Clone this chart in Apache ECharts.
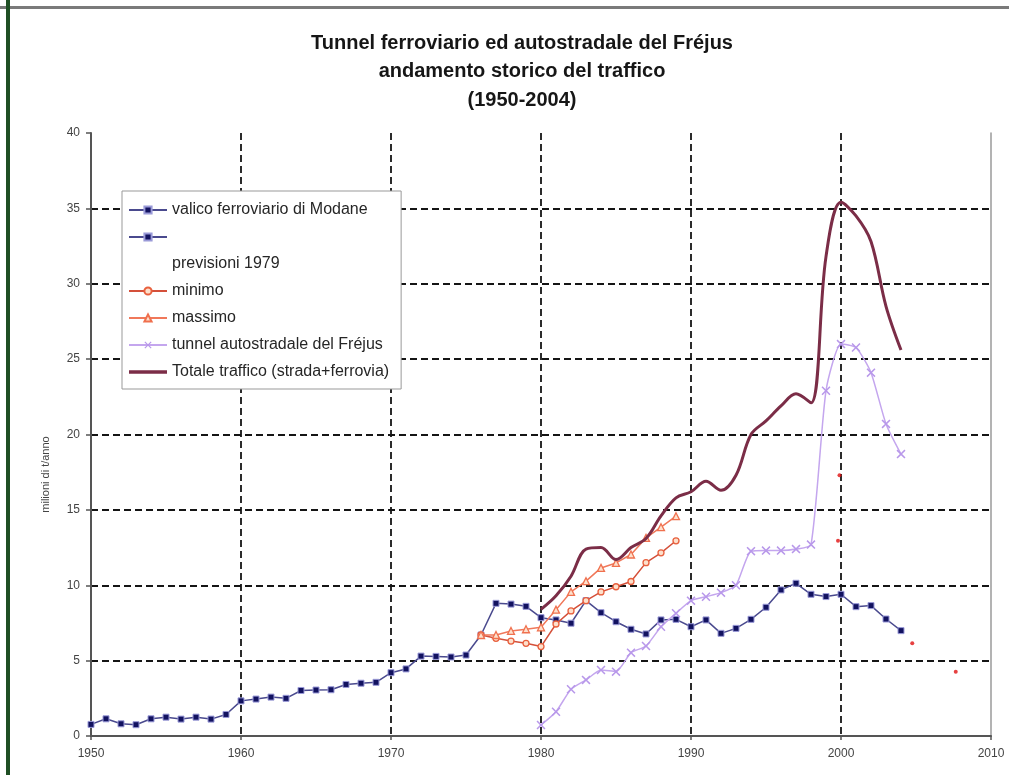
<!DOCTYPE html>
<html><head><meta charset="utf-8">
<script src="https://cdn.jsdelivr.net/npm/echarts@6/dist/echarts.min.js"></script>
<style>html,body{margin:0;padding:0;background:#fff}#c{width:1009px;height:775px}</style>
</head><body><div id="c"></div>
<script>
// ---- data ----
const modaneYears = [1950,1951,1952,1953,1954,1955,1956,1957,1958,1959,1960,1961,1962,1963,1964,1965,1966,1967,1968,1969,1970,1971,1972,1973,1974,1975,1976,1977,1978,1979,1980,1981,1982,1983,1984,1985,1986,1987,1988,1989,1990,1991,1992,1993,1994,1995,1996,1997,1998,1999,2000,2001,2002,2003,2004];
const modaneValues = [0.77,1.14,0.81,0.75,1.14,1.25,1.12,1.25,1.12,1.43,2.33,2.45,2.58,2.5,3.02,3.05,3.07,3.42,3.5,3.56,4.2,4.45,5.3,5.28,5.24,5.37,6.7,8.8,8.75,8.6,7.85,7.7,7.48,8.98,8.18,7.58,7.08,6.77,7.7,7.74,7.25,7.7,6.81,7.14,7.74,8.54,9.69,10.13,9.4,9.25,9.4,8.58,8.65,7.76,6.99];

const forecastYears = [1976,1977,1978,1979,1980,1981,1982,1983,1984,1985,1986,1987,1988,1989];
const minimoValues  = [6.7,6.48,6.3,6.15,5.93,7.43,8.3,8.98,9.56,9.9,10.25,11.5,12.15,12.95];
const massimoValues = [6.7,6.7,6.97,7.08,7.21,8.38,9.56,10.27,11.15,11.48,12.04,13.14,13.85,14.58];

const frejusYears = [1980,1981,1982,1983,1984,1985,1986,1987,1988,1989,1990,1991,1992,1993,1994,1995,1996,1997,1998,1999,2000,2001,2002,2003,2004];
const frejusValues = [0.73,1.61,3.1,3.72,4.38,4.27,5.53,5.97,7.25,8.14,8.98,9.24,9.51,10.0,12.26,12.3,12.3,12.4,12.7,22.9,26.0,25.77,24.1,20.7,18.7];
const totaleValues = [8.4,9.3,10.6,12.4,12.5,11.7,12.5,13.1,14.6,15.8,16.2,16.9,16.3,17.3,20.0,20.9,21.9,22.7,22.1,31.8,35.4,34.5,32.8,28.5,25.6];

const redDotYears  = [1999.9,1999.8,2004.75,2007.65];
const redDotValues = [17.3,12.96,6.15,4.27];

const xTicks = {min:1950, max:2010, step:10};
const yTicks = {min:0, max:40, step:5};

const names = {
  modane: 'valico ferroviario di Modane',
  blank: ' ',
  prev: 'previsioni 1979',
  minimo: 'minimo',
  massimo: 'massimo',
  frejus: 'tunnel autostradale del Fréjus',
  totale: 'Totale traffico (strada+ferrovia)'
};

const zip = (xs, ys) => xs.map((x, i) => [x, ys[i]]);
const FONT = "'Liberation Sans', Arial, sans-serif";
const crossPath = 'path://M0,1.2L1.2,0L5,3.8L8.8,0L10,1.2L6.2,5L10,8.8L8.8,10L5,6.2L1.2,10L0,8.8L3.8,5Z';

const gridDash = {show:true, showMinLine:false, showMaxLine:false, lineStyle:{color:'#151515', width:1.8, type:[7,4]}};

const modaneStyle = {
  type:'line', symbol:'rect', symbolSize:6,
  lineStyle:{color:'#4a4a8e', width:1.5},
  itemStyle:{color:'#121260', borderColor:'#9a9ad8', borderWidth:1}
};

const option = {
  animation:false,
  backgroundColor:'#fff',
  title:{
    text:'Tunnel ferroviario ed autostradale del Fréjus\nandamento storico del traffico\n(1950-2004)',
    left:522, top:29, padding:0, textAlign:'center',
    textStyle:{fontFamily:FONT, fontSize:20, fontWeight:'bold', color:'#161616', lineHeight:28.5}
  },
  legend:{
    orient:'vertical', left:122, top:191,
    padding:[10,12,8,6], itemGap:9, itemWidth:38, itemHeight:9,
    backgroundColor:'#fff', borderColor:'#999', borderWidth:1,
    selectedMode:false,
    textStyle:{fontFamily:FONT, fontSize:16, color:'#262626', lineHeight:18},
    data:[names.modane, names.blank, {name:names.prev, icon:'none'}, names.minimo, names.massimo, names.frejus,
      {name:names.totale, icon:'path://M0,0H40V3.6H0Z'}]
  },
  grid:{left:91, right:18, top:133, bottom:39, containLabel:false},
  xAxis:{
    type:'value', min:xTicks.min, max:xTicks.max, interval:xTicks.step,
    axisLine:{show:true, lineStyle:{color:'#555', width:2}},
    axisTick:{show:true, length:4, lineStyle:{color:'#555', width:1.5}},
    axisLabel:{fontFamily:FONT, fontSize:12, color:'#444', margin:12, formatter:v => String(v)},
    splitLine:gridDash
  },
  yAxis:[{
    type:'value', min:yTicks.min, max:yTicks.max, interval:yTicks.step,
    name:'milioni di t/anno', nameLocation:'middle', nameGap:40,
    nameTextStyle:{fontFamily:FONT, fontSize:11, color:'#444', padding:[0,80,0,0]},
    axisLine:{show:true, lineStyle:{color:'#555', width:2}},
    axisTick:{show:true, length:5, lineStyle:{color:'#555', width:1.5}},
    axisLabel:{fontFamily:FONT, fontSize:12, color:'#444', margin:11},
    splitLine:gridDash
  },{
    type:'value', min:yTicks.min, max:yTicks.max, interval:yTicks.step, position:'right',
    axisLine:{show:true, lineStyle:{color:'#9a9a9a', width:1.5}},
    axisTick:{show:false}, axisLabel:{show:false}, splitLine:{show:false}
  }],
  graphic:[
    {type:'rect', shape:{x:0, y:6, width:1009, height:3}, style:{fill:'#7a7a7a'}, silent:true},
    {type:'rect', shape:{x:6, y:0, width:4, height:775}, style:{fill:'#1f4f24'}, silent:true}
  ],
  series:[
    Object.assign({name:names.modane, data:zip(modaneYears, modaneValues), z:3}, modaneStyle),
    Object.assign({name:names.blank, data:[]}, modaneStyle),
    {name:names.prev, type:'line', data:[], symbol:'none', lineStyle:{opacity:0}},
    {name:names.minimo, type:'line', data:zip(forecastYears, minimoValues), symbol:'circle', symbolSize:6,
      lineStyle:{color:'#d4503a', width:1.5}, itemStyle:{color:'#fde0cc', borderColor:'#e8603e', borderWidth:1.3}, z:4},
    {name:names.massimo, type:'line', data:zip(forecastYears, massimoValues), symbol:'triangle', symbolSize:7,
      lineStyle:{color:'#f0785a', width:1.5}, itemStyle:{color:'#fde0cc', borderColor:'#f0704e', borderWidth:1.3}, z:4},
    {name:names.frejus, type:'line', data:zip(frejusYears, frejusValues), symbol:crossPath, symbolSize:9, smooth:0.2,
      lineStyle:{color:'#c4a6ee', width:1.5}, itemStyle:{color:'#b898ea'}, z:3},
    {name:names.totale, type:'line', data:zip(frejusYears, totaleValues), symbol:'none', smooth:0.35,
      lineStyle:{color:'#7b2d47', width:3}, itemStyle:{color:'#7b2d47'}, z:5},
    {name:'dots', type:'scatter', data:zip(redDotYears, redDotValues), symbolSize:4,
      itemStyle:{color:'#e01010'}, z:6}
  ]
};
const chart = echarts.init(document.getElementById('c'), null, {renderer:'canvas'});
chart.setOption(option);
</script></body></html>
